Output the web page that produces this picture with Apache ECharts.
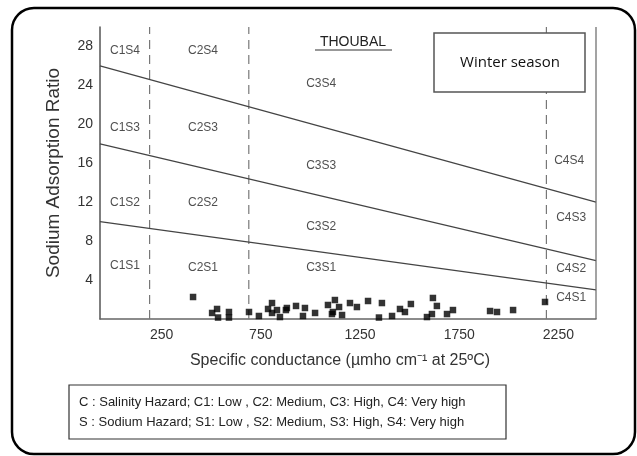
<!DOCTYPE html>
<html>
<head>
<meta charset="utf-8">
<script src="https://cdn.jsdelivr.net/npm/echarts@6/dist/echarts.min.js"></script>
<style>
  html, body { margin: 0; padding: 0; background: #fff; }
  #main { width: 637px; height: 456px; }
</style>
</head>
<body>
<div id="main"></div>
<script>
// samples: [specific conductance, SAR]
var samples = [
  [469, 2.26], [565, 0.62], [590, 1.03], [595, 0.15], [650, 0.72], [650, 0.15],
  [751, 0.72], [801, 0.31], [847, 1.03], [867, 1.64], [867, 0.62], [892, 0.92],
  [907, 0.2], [937, 0.92], [942, 1.13], [988, 1.34], [1033, 1.13], [1023, 0.31],
  [1084, 0.62], [1149, 1.44], [1184, 1.95], [1174, 0.72], [1205, 1.23], [1220, 0.41],
  [1169, 0.51], [1260, 1.64], [1295, 1.23], [1351, 1.85], [1406, 0.15], [1421, 1.64],
  [1472, 0.31], [1512, 1.03], [1537, 0.72], [1567, 1.54], [1678, 2.16], [1698, 1.34],
  [1648, 0.2], [1673, 0.51], [1749, 0.51], [1779, 0.92], [1966, 0.82], [2001, 0.72],
  [2082, 0.92], [2243, 1.75]
];

// sodium hazard boundaries (straight lines across the plot)
var s34Line = [[0, 26], [2500, 12]];
var s23Line = [[0, 18], [2500, 6]];
var s12Line = [[0, 10], [2500, 3]];

// salinity class boundaries
var cBounds = [250, 750, 2250];

var xTicks = [250, 750, 1250, 1750, 2250];
var yTicks = [4, 8, 12, 16, 20, 24, 28];

var zoneNames = ['C1S4', 'C2S4', 'C3S4', 'C1S3', 'C2S3', 'C3S3', 'C4S4',
  'C1S2', 'C2S2', 'C3S2', 'C4S3', 'C1S1', 'C2S1', 'C3S1', 'C4S2', 'C4S1'];
var zoneX = [126, 519, 1115, 126, 519, 1115, 2365,
  126, 519, 1115, 2375, 126, 519, 1115, 2375, 2375];
var zoneY = [27.6, 27.6, 24.2, 19.7, 19.7, 15.8, 16.3,
  11.9, 11.9, 9.5, 10.4, 5.5, 5.3, 5.3, 5.2, 2.2];

var FONT = '"Liberation Sans", Arial, sans-serif';

var chart = echarts.init(document.getElementById('main'));

var series = [];
cBounds.forEach(function (c) {
  series.push({
    type: 'line',
    data: [[c, 0], [c, 30]],
    symbol: 'none',
    silent: true,
    lineStyle: { color: '#777', width: 1.2, type: [9, 6] },
    z: 1
  });
});
[s34Line, s23Line, s12Line].forEach(function (l) {
  series.push({
    type: 'line',
    data: l,
    symbol: 'none',
    silent: true,
    lineStyle: { color: '#444', width: 1.2 },
    z: 2
  });
});
series.push({
  type: 'scatter',
  data: zoneNames.map(function (n, i) { return { value: [zoneX[i], zoneY[i]], name: n }; }),
  symbolSize: 0,
  silent: true,
  label: {
    show: true,
    position: 'inside',
    formatter: '{b}',
    color: '#222',
    fontSize: 12,
    fontFamily: 'Liberation Sans'
  },
  z: 3
});
series.push({
  type: 'scatter',
  data: samples,
  symbol: 'rect',
  symbolSize: 6.5,
  itemStyle: { color: '#000' },
  z: 5
});

var option = {
  animation: false,
  backgroundColor: '#fff',
  grid: { left: 100, right: 41, top: 27, bottom: 137 },
  xAxis: {
    type: 'value',
    min: 0,
    max: 2500,
    interval: 250,
    splitLine: { show: false },
    axisTick: { show: false },
    axisLine: { lineStyle: { color: '#666', width: 1.5 } },
    axisLabel: {
      color: '#333',
      fontSize: 14,
      fontFamily: FONT,
      margin: 9,
      padding: [0, 0, 0, 24],
      formatter: function (v) { return xTicks.indexOf(v) >= 0 ? v : ''; }
    },
    name: 'Specific conductance (\u00b5mho cm\u207b\u00b9 at 25\u00baC)',
    nameLocation: 'middle',
    nameGap: 34,
    nameTextStyle: { color: '#333', fontSize: 16, fontFamily: FONT, padding: [0, 16, 0, 0] }
  },
  yAxis: {
    type: 'value',
    min: 0,
    max: 30,
    interval: 4,
    splitLine: { show: false },
    axisTick: { show: false },
    axisLine: { lineStyle: { color: '#555', width: 1.5 } },
    axisLabel: {
      color: '#333',
      fontSize: 14,
      fontFamily: FONT,
      margin: 7,
      formatter: function (v) { return yTicks.indexOf(v) >= 0 ? v : ''; }
    },
    name: 'Sodium Adsorption Ratio',
    nameLocation: 'middle',
    nameGap: 37,
    nameTextStyle: { color: '#333', fontSize: 19, fontFamily: FONT }
  },
  graphic: [
    // right frame line
    { type: 'line', shape: { x1: 596, y1: 27, x2: 596, y2: 319 }, style: { stroke: '#666', lineWidth: 1.2 }, z: 10 },
    // outer rounded border
    { type: 'rect', shape: { x: 12, y: 8, width: 623, height: 446, r: 22 }, style: { fill: 'none', stroke: '#000', lineWidth: 2.5 }, z: 10 },
    // THOUBAL
    { type: 'text', x: 353, y: 42, style: { text: 'THOUBAL', fill: '#222', font: '14px Liberation Sans', textAlign: 'center', textVerticalAlign: 'middle' }, z: 10 },
    { type: 'line', shape: { x1: 315, y1: 50, x2: 392, y2: 50 }, style: { stroke: '#333', lineWidth: 1.2 }, z: 10 },
    // season box
    { type: 'rect', shape: { x: 434, y: 33, width: 151, height: 59 }, style: { fill: '#fff', stroke: '#555', lineWidth: 1.5 }, z: 10 },
    { type: 'text', x: 510, y: 63, style: { text: 'Winter season', fill: '#111', font: '15px Open Sans', textAlign: 'center', textVerticalAlign: 'middle' }, z: 11 },
    // key box
    { type: 'rect', shape: { x: 69, y: 385, width: 437, height: 54 }, style: { fill: '#fff', stroke: '#333', lineWidth: 1.2 }, z: 10 },
    { type: 'text', x: 79, y: 402, style: { text: 'C : Salinity Hazard; C1: Low , C2: Medium, C3: High, C4: Very high', fill: '#222', font: '13px Liberation Sans', textVerticalAlign: 'middle' }, z: 11 },
    { type: 'text', x: 79, y: 422, style: { text: 'S : Sodium Hazard; S1: Low , S2: Medium, S3: High, S4: Very high', fill: '#222', font: '13px Liberation Sans', textVerticalAlign: 'middle' }, z: 11 }
  ],
  series: series
};

chart.setOption(option);
</script>
</body>
</html>
